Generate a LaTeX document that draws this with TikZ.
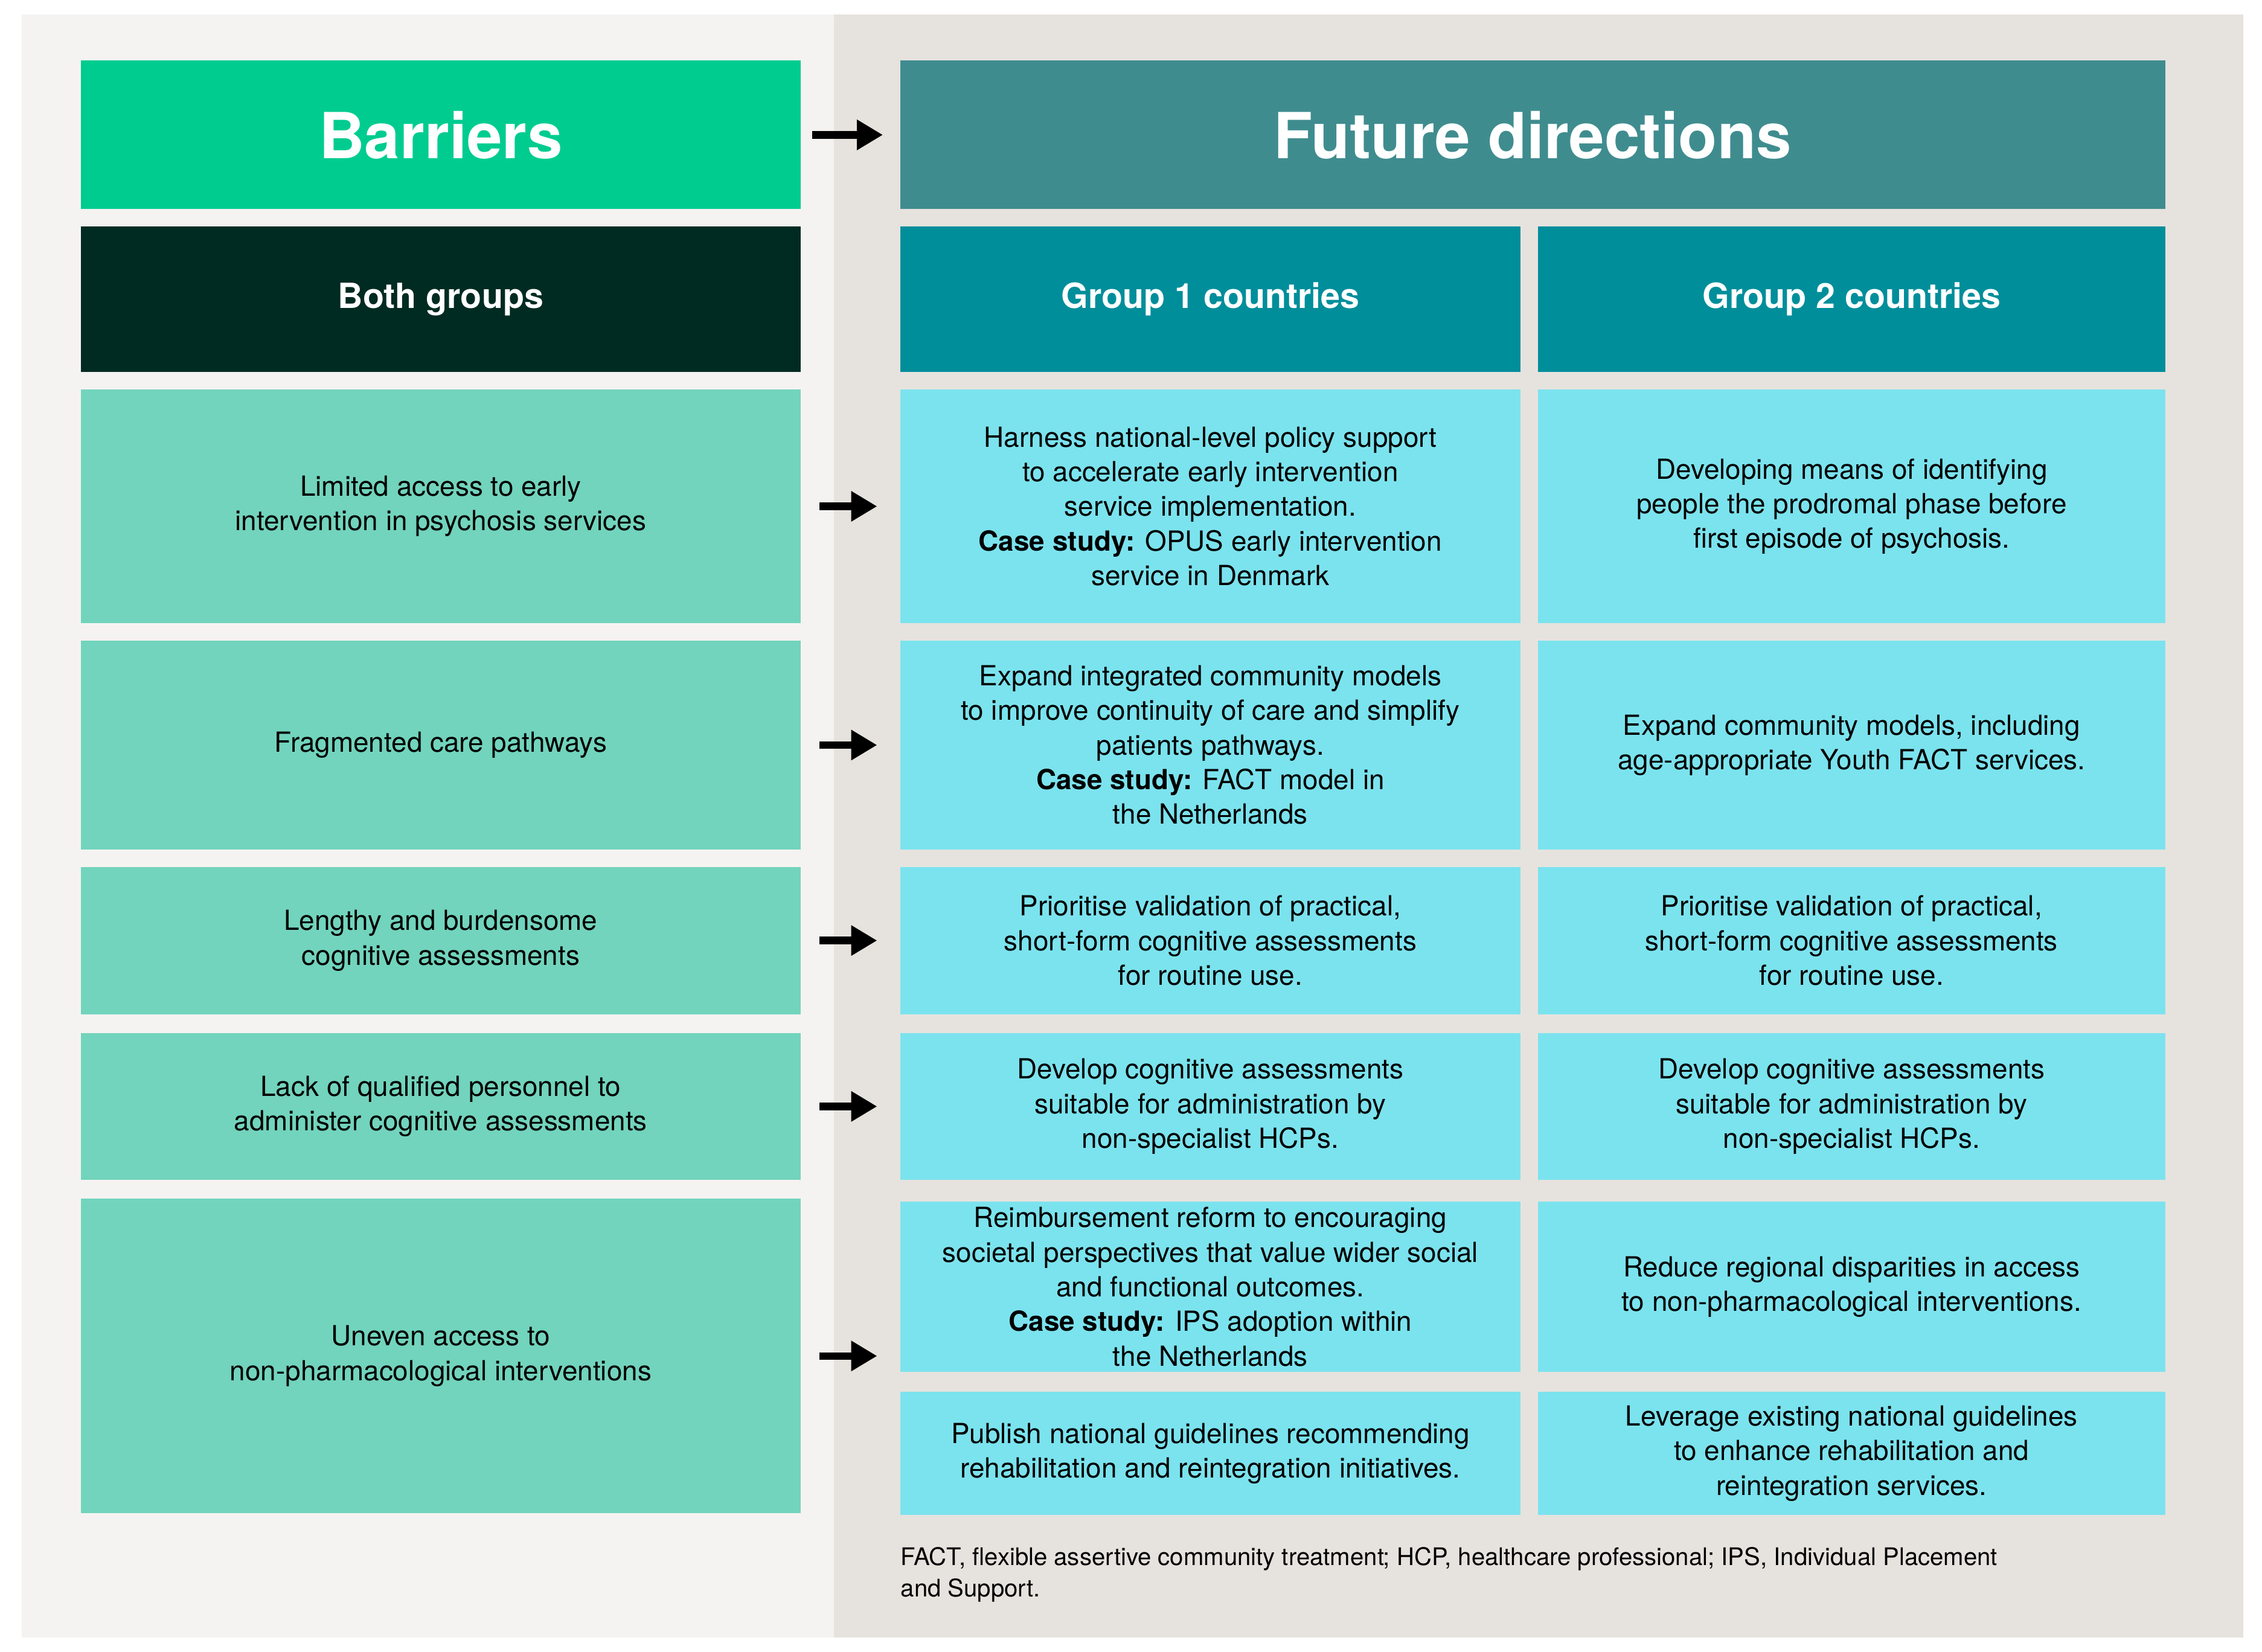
\documentclass[tikz,border=0pt]{standalone}
\usepackage{fontspec}
\setmainfont{TeX Gyre Heros}
\usetikzlibrary{arrows.meta}
\definecolor{bgL}{HTML}{F5F3F1}
\definecolor{bgR}{HTML}{E6E3DE}
\definecolor{cBar}{HTML}{00CC90}
\definecolor{cFut}{HTML}{3F8C8F}
\definecolor{cBoth}{HTML}{002B22}
\definecolor{cGrp}{HTML}{008E9B}
\definecolor{cL}{HTML}{72D4BD}
\definecolor{cR}{HTML}{7BE3EE}
\tikzset{
  box/.style={inner sep=0pt, outer sep=0pt, align=center, font=\fontsize{9.6}{12}\selectfont, text=black},
  title/.style={box, text=white, font=\fontsize{22}{26}\bfseries\selectfont},
  head/.style={box, text=white, font=\fontsize{12}{14}\bfseries\selectfont},
  arr/.style={-{Triangle[length=9pt,width=10pt]}, line width=2.6pt, black},
}
\newcommand{\bx}[7]{\node[#6, fill=#7, minimum width={(#4-#2)*0.5pt}, minimum height={(#5-#3)*0.5pt}] (#1) at ({(#2+#4)/2},{-(#3+#5)/2})}
\begin{document}
\begin{tikzpicture}[x=0.5pt,y=0.5pt]
\fill[white] (0,0) rectangle (1568,-1145);
\useasboundingbox (0,0) rectangle (1568,-1145);
\fill[bgL] (15,-10) rectangle (578,-1135);
\fill[bgR] (578,-10) rectangle (1555,-1135);
\bx{bar}{56}{42}{555}{145}{title}{cBar}{Barriers};
\bx{fut}{624}{42}{1501}{145}{title}{cFut}{Future directions};
\bx{both}{56}{157}{555}{258}{head}{cBoth}{Both groups};
\bx{g1}{624}{157}{1054}{258}{head}{cGrp}{Group 1 countries};
\bx{g2}{1066}{157}{1501}{258}{head}{cGrp}{Group 2 countries};
% rows
\bx{l1}{56}{270}{555}{432}{box}{cL}{Limited access to early\\intervention in psychosis services};
\bx{a1}{624}{270}{1054}{432}{box}{cR}{Harness national-level policy support\\to accelerate early intervention\\service implementation.\\\textbf{Case study:} OPUS early intervention\\service in Denmark};
\bx{b1}{1066}{270}{1501}{432}{box}{cR}{Developing means of identifying\\people the prodromal phase before\\first episode of psychosis.};
\bx{l2}{56}{444}{555}{589}{box}{cL}{Fragmented care pathways};
\bx{a2}{624}{444}{1054}{589}{box}{cR}{Expand integrated community models\\to improve continuity of care and simplify\\patients pathways.\\\textbf{Case study:} FACT model in\\the Netherlands};
\bx{b2}{1066}{444}{1501}{589}{box}{cR}{Expand community models, including\\age-appropriate Youth FACT services.};
\bx{l3}{56}{601}{555}{703}{box}{cL}{Lengthy and burdensome\\cognitive assessments};
\bx{a3}{624}{601}{1054}{703}{box}{cR}{Prioritise validation of practical,\\short-form cognitive assessments\\for routine use.};
\bx{b3}{1066}{601}{1501}{703}{box}{cR}{Prioritise validation of practical,\\short-form cognitive assessments\\for routine use.};
\bx{l4}{56}{716}{555}{818}{box}{cL}{Lack of qualified personnel to\\administer cognitive assessments};
\bx{a4}{624}{716}{1054}{818}{box}{cR}{Develop cognitive assessments\\suitable for administration by\\non-specialist HCPs.};
\bx{b4}{1066}{716}{1501}{818}{box}{cR}{Develop cognitive assessments\\suitable for administration by\\non-specialist HCPs.};
\bx{l5}{56}{831}{555}{1049}{box}{cL}{Uneven access to\\non-pharmacological interventions};
\bx{a5}{624}{833}{1054}{951}{box}{cR}{Reimbursement reform to encouraging\\societal perspectives that value wider social\\and functional outcomes.\\\textbf{Case study:} IPS adoption within\\the Netherlands};
\bx{b5}{1066}{833}{1501}{951}{box}{cR}{Reduce regional disparities in access\\to non-pharmacological interventions.};
\bx{a6}{624}{965}{1054}{1050}{box}{cR}{Publish national guidelines recommending\\rehabilitation and reintegration initiatives.};
\bx{b6}{1066}{965}{1501}{1050}{box}{cR}{Leverage existing national guidelines\\to enhance rehabilitation and\\reintegration services.};
\node[anchor=north west, align=left, inner sep=0pt, font=\fontsize{8.4}{11}\selectfont] (fn) at (624,-1072)
 {FACT, flexible assertive community treatment; HCP, healthcare professional; IPS, Individual Placement\\and Support.};
% arrows
\draw[arr, shorten <=4pt, shorten >=6pt] (bar.east) -- (fut.west);
\foreach \l/\r in {l1/a1,l2/a2,l3/a3,l4/a4}
  \draw[arr, shorten <=6.5pt, shorten >=8pt] (\l.east) -- (\l.east -| \r.west);
\draw[arr, shorten <=6.5pt, shorten >=8pt] (l5.east) -- (l5.east -| a5.west);
\end{tikzpicture}
\end{document}
